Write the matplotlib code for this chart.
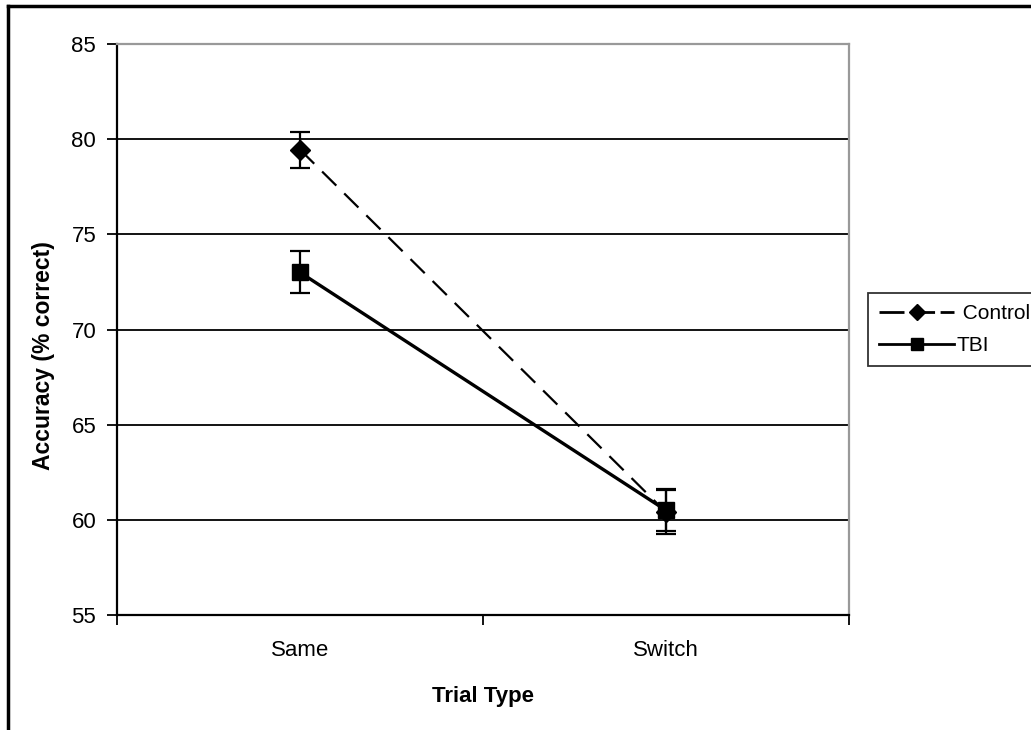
import matplotlib.pyplot as plt
from matplotlib.lines import Line2D

plt.rcParams['font.family'] = ['Liberation Sans', 'DejaVu Sans']

# === Data ===
trial_types = ["Same", "Switch"]
control_mean = [79.45, 60.4]
control_err = [0.95, 1.15]
tbi_mean = [73.0, 60.5]
tbi_err = [1.1, 1.1]
y_ticks = [55, 60, 65, 70, 75, 80, 85]

fig = plt.figure(figsize=(10.31, 7.30), dpi=100)
ax = fig.add_axes([117 / 1031, 1 - 615 / 730, 732 / 1031, 571 / 730])

xs = [0.5, 1.5]

# gridlines
for yv in y_ticks[1:-1]:
    ax.axhline(yv, color='black', lw=1.3, zorder=1)

ax.errorbar(xs, control_mean, yerr=control_err, color='black', lw=1.6,
            ls=(0, (9, 5)), marker='D', markersize=10, capsize=7,
            elinewidth=1.6, capthick=1.6, zorder=3)
ax.errorbar(xs, tbi_mean, yerr=tbi_err, color='black', lw=2.4,
            ls='-', marker='s', markersize=12, capsize=7,
            elinewidth=1.6, capthick=1.6, zorder=4)

ax.set_xlim(0, 2)
ax.set_ylim(55, 85)
ax.set_yticks(y_ticks)
ax.set_xticks([0, 1, 2])
ax.set_xticklabels([])
ax.set_xticks(xs, minor=True)
ax.set_xticklabels(trial_types, minor=True)
ax.tick_params(axis='x', which='minor', length=0, pad=18, labelsize=16)
ax.tick_params(axis='x', which='major', direction='out', length=7, width=1.3)
ax.tick_params(axis='y', direction='out', length=7, width=1.3, labelsize=16, pad=8)

for s in ['left', 'bottom']:
    ax.spines[s].set_color('black')
    ax.spines[s].set_linewidth(1.6)
for s in ['top', 'right']:
    ax.spines[s].set_color('#999999')
    ax.spines[s].set_linewidth(1.6)

ax.set_ylabel("Accuracy (% correct)", fontsize=16.5, fontweight='bold')
ax.yaxis.set_label_coords(-0.085, 0.455)
ax.set_xlabel("Trial Type", fontsize=16, fontweight='bold', labelpad=18)

handles = [
    Line2D([], [], color='black', lw=2, ls=(0, (9, 2)), marker='D', markersize=8),
    Line2D([], [], color='black', lw=2, marker='s', markersize=9),
]
leg = fig.legend(handles, [" Control", "TBI"], loc='upper left',
                 bbox_to_anchor=(868 / 1031, 1 - 293 / 730), fontsize=15,
                 frameon=True, fancybox=False, edgecolor='black',
                 handlelength=3.6, handletextpad=0.1, borderpad=0.55,
                 labelspacing=0.6, borderaxespad=0)
leg.get_frame().set_linewidth(1.3)

# outer chart border (top and left visible)
fig.add_artist(Line2D([8 / 1031, 8 / 1031], [0, 1 - 6 / 730], color='black', lw=2.5,
                      transform=fig.transFigure))
fig.add_artist(Line2D([8 / 1031, 1], [1 - 6 / 730, 1 - 6 / 730], color='black', lw=2.5,
                      transform=fig.transFigure))

fig.savefig("out.png", dpi=100)
